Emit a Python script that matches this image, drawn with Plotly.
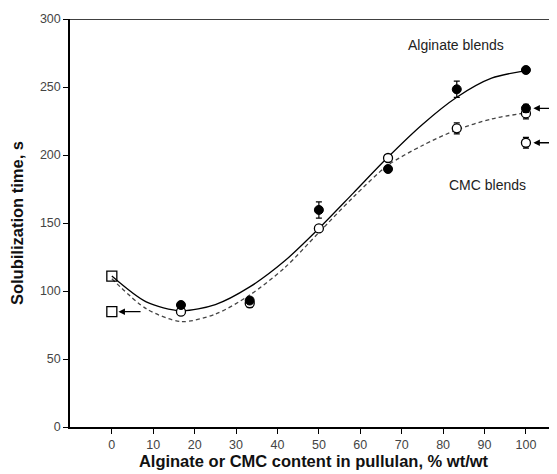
import plotly.graph_objects as go

# Measured points
content = [16.7, 33.3, 50, 66.7, 83.3, 100]
alginate = [89.7, 93, 159.6, 189.7, 248.3, 262.5]
alginate_err = [2, 2, 6, 2, 6, 2]
cmc = [84.8, 91, 146, 197.8, 219.6, 230.6]
cmc_err = [2, 3, 2, 2, 4, 4]

# Pure pullulan squares
pull_x = [0, 0]
pull_y = [111, 84.8]

# Arrow-marked points at 100%
extra_alg_x = [100]
extra_alg_y = [234.3]
extra_alg_err = [3]
extra_cmc_x = [100]
extra_cmc_y = [209]
extra_cmc_err = [4]

# Fitted trend curves
curve_x = [0, 8.3, 16.7, 25, 33.3, 41.7, 50, 58.3, 66.7, 75, 83.3, 91.7, 100]
alg_curve = [111, 92, 85.5, 90, 103, 122, 146, 172, 198.5, 222.5, 242.5, 256.5, 262]
cmc_curve = [109, 87, 77.5, 83, 97, 117, 143, 169, 192.5, 207, 218.5, 226.5, 231]

x_ticks = [0, 10, 20, 30, 40, 50, 60, 70, 80, 90, 100]
y_ticks = [0, 50, 100, 150, 200, 250, 300]

FONT = "Arial, Liberation Sans, sans-serif"

fig = go.Figure()

fig.add_trace(go.Scatter(x=curve_x, y=alg_curve, mode="lines",
                         line=dict(color="black", width=1.3, shape="spline", smoothing=0.8),
                         showlegend=False, hoverinfo="skip"))
fig.add_trace(go.Scatter(x=curve_x, y=cmc_curve, mode="lines",
                         line=dict(color="#444", width=1.3, dash="4px,3px", shape="spline", smoothing=0.8),
                         showlegend=False, hoverinfo="skip"))

err_style = dict(type="data", thickness=1.2, width=3, color="black")

fig.add_trace(go.Scatter(x=content, y=cmc, mode="markers",
                         error_y=dict(array=cmc_err, **err_style),
                         marker=dict(symbol="circle", size=9, color="white",
                                     line=dict(color="black", width=1.3)),
                         showlegend=False))
fig.add_trace(go.Scatter(x=extra_cmc_x, y=extra_cmc_y, mode="markers",
                         error_y=dict(array=extra_cmc_err, **err_style),
                         marker=dict(symbol="circle", size=9, color="white",
                                     line=dict(color="black", width=1.3)),
                         showlegend=False))
fig.add_trace(go.Scatter(x=content, y=alginate, mode="markers",
                         error_y=dict(array=alginate_err, **err_style),
                         marker=dict(symbol="circle", size=9, color="black",
                                     line=dict(color="black", width=1)),
                         showlegend=False))
fig.add_trace(go.Scatter(x=extra_alg_x, y=extra_alg_y, mode="markers",
                         error_y=dict(array=extra_alg_err, **err_style),
                         marker=dict(symbol="circle", size=9, color="black",
                                     line=dict(color="black", width=1)),
                         showlegend=False))
fig.add_trace(go.Scatter(x=pull_x, y=pull_y, mode="markers",
                         marker=dict(symbol="square-open", size=10, color="black",
                                     line=dict(color="black", width=1.3)),
                         showlegend=False))

# Arrows (head -> tail in data coordinates)
for xh, yh, xt in [(101.8, extra_alg_y[0], 107.2), (101.8, extra_cmc_y[0], 107.2), (1.6, pull_y[1], 7.3)]:
    fig.add_annotation(x=xh, y=yh, ax=xt, ay=yh, axref="x", ayref="y", text="",
                       showarrow=True, arrowhead=2, arrowsize=1, arrowwidth=1.3,
                       arrowcolor="black", xref="x", yref="y")

fig.add_annotation(x=83, y=281, text="Alginate blends", showarrow=False,
                   font=dict(family=FONT, size=14, color="#222"))
fig.add_annotation(x=90.6, y=178, text="CMC blends", showarrow=False,
                   font=dict(family=FONT, size=14, color="#222"))

# top border
fig.add_shape(type="line", xref="paper", yref="y", x0=0, x1=1, y0=300, y1=300,
              line=dict(color="black", width=1.5))

# page body has an 8px margin, so the figure is sized to end at the window edge
fig.update_layout(
    width=549, height=466,
    margin=dict(l=62, r=0, t=11, b=47),
    paper_bgcolor="white", plot_bgcolor="white",
    font=dict(family=FONT, color="#333"),
    xaxis=dict(range=[-10.1, 107.5], tickvals=x_ticks, ticks="outside", ticklen=5,
               tickwidth=1.3, tickcolor="black", showline=True, linecolor="black",
               linewidth=1.5, showgrid=False, zeroline=False,
               tickfont=dict(family=FONT, size=12.5, color="#444"),
               title=dict(text="<b>Alginate or CMC content in pullulan, % wt/wt</b>",
                          font=dict(family=FONT, size=16.5, color="#111"), standoff=4)),
    yaxis=dict(range=[0, 300], tickvals=y_ticks, ticks="outside", ticklen=5,
               tickwidth=1.3, tickcolor="black", showline=True, linecolor="black",
               linewidth=1.5, showgrid=False, zeroline=False,
               tickfont=dict(family=FONT, size=12.5, color="#444"),
               title=dict(text="<b>Solubilization time, s</b>",
                          font=dict(family=FONT, size=16.5, color="#111"), standoff=12)),
)

fig.write_html("out.html")
